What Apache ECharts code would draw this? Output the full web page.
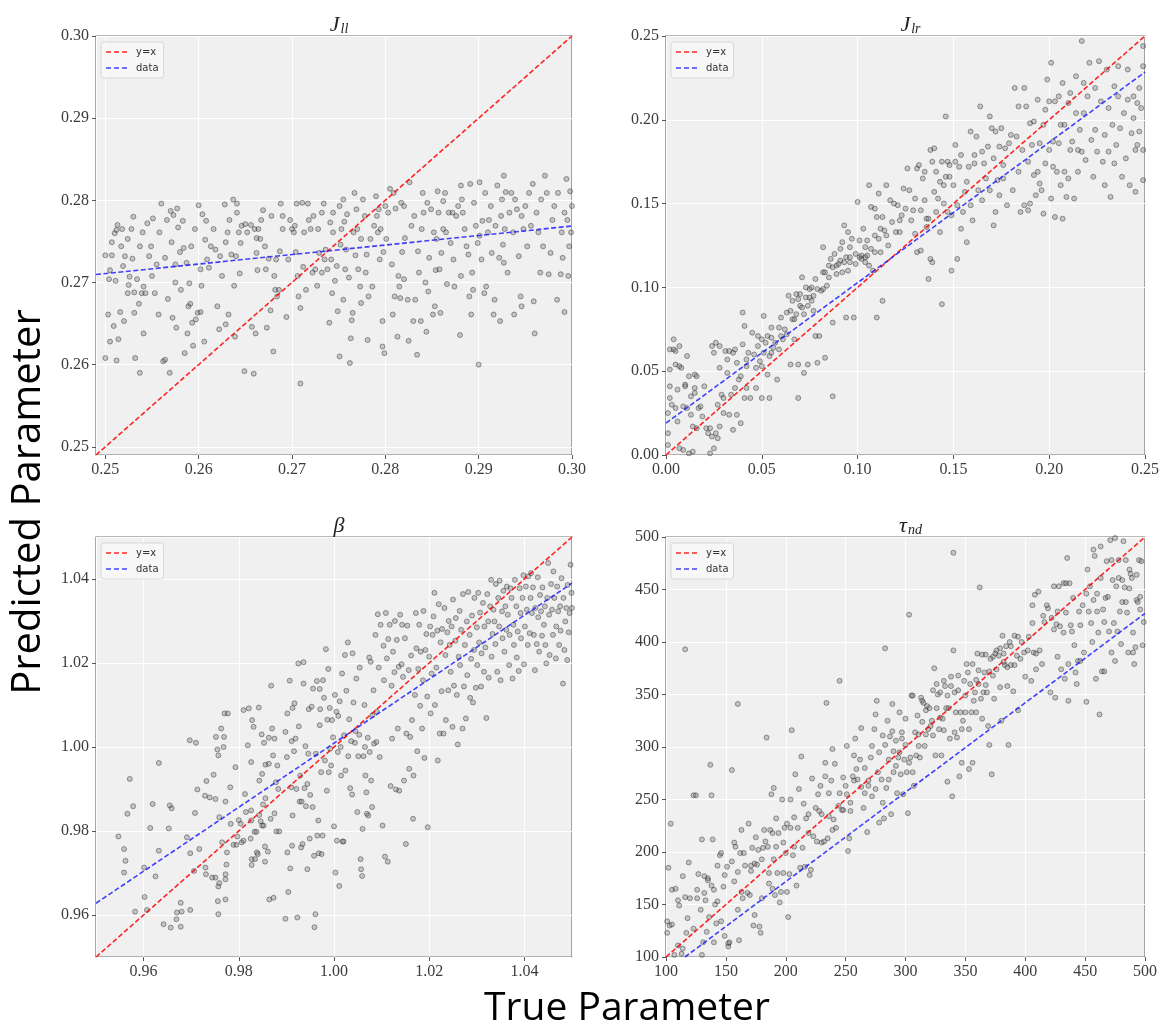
<!DOCTYPE html>
<html><head><meta charset="utf-8">
<script src="https://cdn.jsdelivr.net/npm/echarts@6/dist/echarts.min.js"></script>
<style>html,body{margin:0;padding:0;background:#fff}#c{width:1166px;height:1030px}</style>
</head><body><div id="c"></div>
<script>
// ---------- DATA ----------
const jllRange = [0.249, 0.30];
const jlrRange = [0, 0.25];
const betaRange = [0.95, 1.05];
const tauRange = [100, 500];

const jllFit = [[0.249, 0.27097], [0.30, 0.27687]];
const jlrFit = [[0, 0.019], [0.25, 0.2285]];
const betaFit = [[0.95, 0.9628], [1.05, 1.039]];
const tauFit = [[115.8, 100], [500, 427.2]];

const jllPoints = [[0.2500,0.2733],[0.2507,0.2733],[0.2500,0.2608],[0.2503,0.2661],[0.2504,0.2704],[0.2505,0.2715],[0.2507,0.2749],[0.2510,0.2760],[0.2509,0.2647],[0.2505,0.2628],[0.2513,0.2770],[0.2512,0.2764],[0.2511,0.2702],[0.2512,0.2605],[0.2514,0.2631],[0.2516,0.2664],[0.2517,0.2744],[0.2519,0.2720],[0.2518,0.2765],[0.2520,0.2653],[0.2521,0.2732],[0.2524,0.2753],[0.2524,0.2687],[0.2525,0.2697],[0.2526,0.2707],[0.2528,0.2765],[0.2530,0.2780],[0.2529,0.2729],[0.2531,0.2688],[0.2531,0.2663],[0.2532,0.2608],[0.2534,0.2704],[0.2536,0.2674],[0.2537,0.2744],[0.2537,0.2590],[0.2539,0.2687],[0.2540,0.2761],[0.2541,0.2638],[0.2541,0.2695],[0.2543,0.2687],[0.2545,0.2772],[0.2547,0.2732],[0.2549,0.2744],[0.2550,0.2708],[0.2551,0.2778],[0.2553,0.2687],[0.2555,0.2722],[0.2557,0.2661],[0.2558,0.2761],[0.2560,0.2796],[0.2562,0.2604],[0.2564,0.2606],[0.2564,0.2730],[0.2566,0.2776],[0.2567,0.2680],[0.2569,0.2590],[0.2570,0.2787],[0.2571,0.2749],[0.2572,0.2657],[0.2573,0.2782],[0.2575,0.2722],[0.2576,0.2645],[0.2575,0.2700],[0.2577,0.2790],[0.2578,0.2767],[0.2580,0.2737],[0.2581,0.2691],[0.2583,0.2775],[0.2584,0.2742],[0.2585,0.2614],[0.2587,0.2724],[0.2588,0.2638],[0.2589,0.2671],[0.2590,0.2699],[0.2591,0.2674],[0.2592,0.2744],[0.2593,0.2651],[0.2594,0.2623],[0.2596,0.2765],[0.2597,0.2655],[0.2599,0.2663],[0.2600,0.2794],[0.2602,0.2716],[0.2602,0.2664],[0.2603,0.2696],[0.2604,0.2783],[0.2606,0.2628],[0.2607,0.2752],[0.2608,0.2775],[0.2609,0.2728],[0.2611,0.2718],[0.2613,0.2744],[0.2616,0.2765],[0.2618,0.2740],[0.2620,0.2671],[0.2622,0.2643],[0.2623,0.2732],[0.2625,0.2708],[0.2628,0.2795],[0.2629,0.2749],[0.2629,0.2649],[0.2631,0.2761],[0.2632,0.2661],[0.2633,0.2776],[0.2635,0.2734],[0.2637,0.2801],[0.2638,0.2696],[0.2639,0.2634],[0.2640,0.2732],[0.2641,0.2796],[0.2641,0.2785],[0.2643,0.2761],[0.2644,0.2711],[0.2645,0.2748],[0.2646,0.2769],[0.2649,0.2592],[0.2650,0.2771],[0.2652,0.2761],[0.2656,0.2770],[0.2657,0.2646],[0.2659,0.2589],[0.2660,0.2765],[0.2661,0.2638],[0.2662,0.2736],[0.2662,0.2754],[0.2663,0.2715],[0.2664,0.2765],[0.2666,0.2753],[0.2667,0.2776],[0.2669,0.2788],[0.2671,0.2744],[0.2672,0.2716],[0.2673,0.2645],[0.2675,0.2729],[0.2677,0.2666],[0.2678,0.2781],[0.2680,0.2616],[0.2681,0.2708],[0.2682,0.2691],[0.2683,0.2728],[0.2684,0.2683],[0.2686,0.2691],[0.2687,0.2738],[0.2688,0.2796],[0.2690,0.2781],[0.2690,0.2765],[0.2694,0.2658],[0.2696,0.2728],[0.2698,0.2776],[0.2700,0.2765],[0.2702,0.2761],[0.2703,0.2769],[0.2704,0.2737],[0.2705,0.2796],[0.2706,0.2708],[0.2707,0.2683],[0.2709,0.2577],[0.2709,0.2669],[0.2711,0.2797],[0.2712,0.2719],[0.2713,0.2761],[0.2715,0.2691],[0.2717,0.2796],[0.2718,0.2776],[0.2720,0.2765],[0.2722,0.2712],[0.2723,0.2781],[0.2725,0.2716],[0.2727,0.2696],[0.2728,0.2765],[0.2729,0.2736],[0.2732,0.2785],[0.2732,0.2712],[0.2734,0.2796],[0.2735,0.2728],[0.2736,0.2740],[0.2738,0.2716],[0.2740,0.2651],[0.2741,0.2773],[0.2742,0.2728],[0.2743,0.2687],[0.2744,0.2761],[0.2744,0.2785],[0.2746,0.2702],[0.2748,0.2720],[0.2749,0.2665],[0.2751,0.2793],[0.2751,0.2610],[0.2752,0.2746],[0.2753,0.2765],[0.2755,0.2801],[0.2755,0.2679],[0.2756,0.2774],[0.2757,0.2716],[0.2758,0.2740],[0.2759,0.2783],[0.2761,0.2706],[0.2762,0.2602],[0.2763,0.2632],[0.2764,0.2654],[0.2765,0.2663],[0.2766,0.2761],[0.2767,0.2809],[0.2768,0.2733],[0.2769,0.2789],[0.2770,0.2765],[0.2771,0.2716],[0.2773,0.2695],[0.2774,0.2675],[0.2774,0.2753],[0.2776,0.2801],[0.2778,0.2781],[0.2779,0.2712],[0.2780,0.2734],[0.2781,0.2630],[0.2782,0.2683],[0.2784,0.2753],[0.2786,0.2695],[0.2788,0.2769],[0.2790,0.2805],[0.2791,0.2781],[0.2792,0.2761],[0.2793,0.2789],[0.2794,0.2728],[0.2795,0.2765],[0.2797,0.2622],[0.2797,0.2653],[0.2798,0.2737],[0.2799,0.2614],[0.2800,0.2793],[0.2801,0.2753],[0.2803,0.2785],[0.2805,0.2814],[0.2807,0.2722],[0.2808,0.2661],[0.2809,0.2809],[0.2810,0.2683],[0.2811,0.2790],[0.2813,0.2634],[0.2814,0.2708],[0.2815,0.2695],[0.2816,0.2681],[0.2817,0.2797],[0.2818,0.2737],[0.2820,0.2793],[0.2820,0.2704],[0.2821,0.2754],[0.2824,0.2679],[0.2825,0.2629],[0.2826,0.2822],[0.2828,0.2769],[0.2830,0.2653],[0.2831,0.2781],[0.2832,0.2679],[0.2834,0.2612],[0.2835,0.2738],[0.2836,0.2712],[0.2838,0.2653],[0.2839,0.2765],[0.2840,0.2809],[0.2841,0.2785],[0.2843,0.2700],[0.2844,0.2640],[0.2845,0.2797],[0.2846,0.2689],[0.2847,0.2730],[0.2849,0.2789],[0.2851,0.2661],[0.2852,0.2761],[0.2853,0.2671],[0.2854,0.2715],[0.2855,0.2753],[0.2856,0.2811],[0.2857,0.2785],[0.2858,0.2716],[0.2859,0.2663],[0.2860,0.2736],[0.2862,0.2799],[0.2862,0.2765],[0.2864,0.2809],[0.2865,0.2761],[0.2866,0.2698],[0.2868,0.2785],[0.2870,0.2748],[0.2872,0.2785],[0.2873,0.2728],[0.2874,0.2695],[0.2876,0.2781],[0.2878,0.2793],[0.2880,0.2636],[0.2881,0.2818],[0.2881,0.2708],[0.2882,0.2801],[0.2883,0.2785],[0.2885,0.2765],[0.2887,0.2744],[0.2889,0.2734],[0.2890,0.2683],[0.2891,0.2820],[0.2892,0.2661],[0.2893,0.2712],[0.2894,0.2691],[0.2895,0.2797],[0.2897,0.2769],[0.2899,0.2748],[0.2900,0.2600],[0.2901,0.2822],[0.2901,0.2757],[0.2903,0.2728],[0.2904,0.2775],[0.2906,0.2687],[0.2907,0.2809],[0.2908,0.2695],[0.2910,0.2761],[0.2911,0.2776],[0.2913,0.2793],[0.2914,0.2736],[0.2916,0.2661],[0.2917,0.2679],[0.2918,0.2769],[0.2920,0.2818],[0.2922,0.2730],[0.2923,0.2653],[0.2924,0.2781],[0.2925,0.2801],[0.2926,0.2746],[0.2927,0.2724],[0.2927,0.2830],[0.2928,0.2765],[0.2929,0.2810],[0.2931,0.2712],[0.2933,0.2785],[0.2935,0.2809],[0.2937,0.2761],[0.2938,0.2661],[0.2939,0.2801],[0.2941,0.2789],[0.2943,0.2732],[0.2945,0.2683],[0.2946,0.2671],[0.2946,0.2781],[0.2948,0.2765],[0.2950,0.2793],[0.2952,0.2744],[0.2954,0.2809],[0.2956,0.2769],[0.2958,0.2820],[0.2959,0.2677],[0.2960,0.2638],[0.2962,0.2785],[0.2964,0.2761],[0.2966,0.2712],[0.2967,0.2801],[0.2969,0.2744],[0.2971,0.2830],[0.2973,0.2809],[0.2975,0.2710],[0.2977,0.2736],[0.2979,0.2776],[0.2981,0.2793],[0.2984,0.2679],[0.2985,0.2809],[0.2988,0.2710],[0.2989,0.2761],[0.2990,0.2730],[0.2992,0.2664],[0.2992,0.2785],[0.2994,0.2826],[0.2995,0.2776],[0.2996,0.2708],[0.2997,0.2744],[0.2998,0.2811],[0.2999,0.2761],[0.3000,0.2793]];

const jlrPoints = [[0.001,0.006],[0.001,0.013],[0.001,0.025],[0.002,0.034],[0.002,0.041],[0.002,0.051],[0.002,0.063],[0.003,0.030],[0.004,0.063],[0.004,0.069],[0.005,0.054],[0.005,0.028],[0.005,0.062],[0.006,0.039],[0.006,0.020],[0.007,0.065],[0.007,0.053],[0.007,0.004],[0.008,0.052],[0.009,0.029],[0.009,0.003],[0.010,0.042],[0.010,0.041],[0.011,0.059],[0.011,0.028],[0.012,0.001],[0.012,0.047],[0.013,0.035],[0.013,0.024],[0.014,0.017],[0.014,0.002],[0.015,0.048],[0.015,0.040],[0.015,0.037],[0.016,0.016],[0.016,0.047],[0.017,0.028],[0.018,0.029],[0.019,0.023],[0.020,0.041],[0.021,0.016],[0.022,0.013],[0.023,0.001],[0.023,0.016],[0.024,0.065],[0.024,0.011],[0.025,0.004],[0.025,0.061],[0.026,0.013],[0.026,0.067],[0.027,0.030],[0.027,0.010],[0.028,0.052],[0.028,0.017],[0.028,0.065],[0.029,0.036],[0.030,0.025],[0.030,0.034],[0.031,0.062],[0.032,0.057],[0.032,0.049],[0.033,0.062],[0.033,0.024],[0.034,0.036],[0.035,0.061],[0.035,0.015],[0.036,0.040],[0.036,0.063],[0.037,0.024],[0.037,0.055],[0.038,0.045],[0.039,0.019],[0.039,0.047],[0.040,0.085],[0.040,0.066],[0.041,0.034],[0.041,0.077],[0.042,0.053],[0.042,0.040],[0.042,0.057],[0.043,0.061],[0.044,0.034],[0.045,0.073],[0.046,0.060],[0.047,0.052],[0.047,0.040],[0.048,0.071],[0.048,0.065],[0.049,0.056],[0.050,0.069],[0.050,0.034],[0.050,0.053],[0.051,0.061],[0.051,0.083],[0.052,0.067],[0.053,0.048],[0.053,0.071],[0.054,0.059],[0.054,0.034],[0.055,0.070],[0.055,0.061],[0.055,0.076],[0.056,0.064],[0.057,0.067],[0.058,0.045],[0.059,0.076],[0.059,0.063],[0.060,0.082],[0.060,0.071],[0.061,0.069],[0.062,0.075],[0.063,0.072],[0.063,0.085],[0.064,0.095],[0.065,0.086],[0.065,0.054],[0.066,0.081],[0.066,0.092],[0.067,0.069],[0.067,0.081],[0.068,0.096],[0.068,0.084],[0.069,0.054],[0.069,0.093],[0.069,0.034],[0.070,0.089],[0.070,0.096],[0.071,0.106],[0.071,0.088],[0.072,0.049],[0.072,0.084],[0.073,0.094],[0.073,0.100],[0.074,0.054],[0.074,0.089],[0.075,0.099],[0.075,0.094],[0.076,0.092],[0.076,0.100],[0.077,0.086],[0.077,0.095],[0.078,0.105],[0.078,0.071],[0.079,0.055],[0.079,0.099],[0.080,0.071],[0.081,0.098],[0.082,0.109],[0.082,0.124],[0.082,0.099],[0.083,0.058],[0.083,0.109],[0.084,0.101],[0.085,0.106],[0.085,0.113],[0.086,0.117],[0.087,0.112],[0.087,0.035],[0.087,0.079],[0.088,0.120],[0.089,0.113],[0.089,0.108],[0.090,0.114],[0.091,0.123],[0.091,0.116],[0.092,0.109],[0.092,0.127],[0.093,0.137],[0.093,0.115],[0.094,0.082],[0.094,0.118],[0.095,0.110],[0.095,0.133],[0.096,0.124],[0.096,0.115],[0.096,0.118],[0.097,0.129],[0.098,0.082],[0.099,0.114],[0.099,0.120],[0.100,0.151],[0.101,0.118],[0.101,0.128],[0.102,0.117],[0.102,0.119],[0.103,0.135],[0.104,0.118],[0.104,0.115],[0.104,0.124],[0.105,0.119],[0.105,0.128],[0.106,0.161],[0.106,0.113],[0.107,0.148],[0.107,0.123],[0.108,0.110],[0.109,0.131],[0.109,0.147],[0.109,0.121],[0.110,0.142],[0.110,0.082],[0.111,0.129],[0.111,0.156],[0.112,0.135],[0.112,0.121],[0.113,0.092],[0.113,0.142],[0.114,0.134],[0.115,0.161],[0.115,0.131],[0.116,0.125],[0.117,0.152],[0.118,0.139],[0.119,0.150],[0.120,0.133],[0.121,0.149],[0.122,0.140],[0.122,0.133],[0.123,0.143],[0.124,0.159],[0.125,0.147],[0.126,0.171],[0.127,0.158],[0.128,0.140],[0.129,0.146],[0.130,0.132],[0.130,0.153],[0.131,0.171],[0.131,0.121],[0.132,0.173],[0.133,0.146],[0.133,0.122],[0.134,0.165],[0.135,0.169],[0.135,0.152],[0.136,0.141],[0.136,0.136],[0.137,0.141],[0.137,0.105],[0.138,0.117],[0.138,0.182],[0.139,0.115],[0.139,0.175],[0.140,0.157],[0.140,0.183],[0.141,0.145],[0.141,0.169],[0.142,0.153],[0.143,0.133],[0.143,0.163],[0.144,0.090],[0.144,0.175],[0.145,0.150],[0.145,0.161],[0.146,0.166],[0.146,0.202],[0.147,0.145],[0.147,0.175],[0.148,0.166],[0.148,0.173],[0.149,0.110],[0.149,0.143],[0.150,0.161],[0.151,0.175],[0.151,0.185],[0.152,0.149],[0.152,0.117],[0.153,0.172],[0.154,0.179],[0.154,0.135],[0.155,0.145],[0.156,0.157],[0.157,0.127],[0.157,0.163],[0.158,0.172],[0.159,0.149],[0.159,0.193],[0.160,0.140],[0.161,0.179],[0.161,0.174],[0.162,0.190],[0.163,0.158],[0.164,0.208],[0.165,0.181],[0.165,0.152],[0.166,0.174],[0.167,0.165],[0.168,0.184],[0.169,0.202],[0.169,0.158],[0.170,0.195],[0.171,0.137],[0.171,0.177],[0.172,0.193],[0.172,0.145],[0.173,0.164],[0.174,0.184],[0.174,0.155],[0.175,0.195],[0.176,0.173],[0.176,0.165],[0.177,0.183],[0.178,0.149],[0.179,0.186],[0.180,0.191],[0.181,0.158],[0.182,0.219],[0.183,0.190],[0.184,0.169],[0.184,0.208],[0.185,0.145],[0.186,0.182],[0.187,0.219],[0.187,0.149],[0.188,0.208],[0.189,0.146],[0.189,0.175],[0.190,0.198],[0.190,0.150],[0.191,0.185],[0.192,0.167],[0.192,0.199],[0.193,0.155],[0.194,0.212],[0.194,0.169],[0.195,0.162],[0.195,0.186],[0.196,0.158],[0.197,0.144],[0.197,0.197],[0.198,0.174],[0.198,0.206],[0.199,0.224],[0.200,0.182],[0.200,0.211],[0.201,0.234],[0.201,0.153],[0.202,0.187],[0.202,0.172],[0.203,0.211],[0.203,0.142],[0.204,0.169],[0.205,0.186],[0.205,0.214],[0.206,0.161],[0.206,0.197],[0.207,0.222],[0.207,0.141],[0.208,0.169],[0.208,0.197],[0.209,0.154],[0.210,0.210],[0.210,0.165],[0.211,0.182],[0.211,0.216],[0.212,0.187],[0.213,0.153],[0.214,0.226],[0.214,0.204],[0.215,0.182],[0.215,0.169],[0.216,0.194],[0.217,0.247],[0.217,0.181],[0.218,0.222],[0.218,0.204],[0.219,0.176],[0.220,0.214],[0.221,0.234],[0.222,0.188],[0.223,0.166],[0.224,0.219],[0.224,0.194],[0.225,0.181],[0.226,0.235],[0.227,0.211],[0.228,0.175],[0.229,0.161],[0.229,0.191],[0.230,0.230],[0.231,0.207],[0.231,0.181],[0.232,0.154],[0.233,0.197],[0.234,0.220],[0.234,0.174],[0.235,0.185],[0.236,0.214],[0.236,0.232],[0.237,0.195],[0.238,0.166],[0.239,0.204],[0.240,0.177],[0.241,0.230],[0.241,0.212],[0.242,0.161],[0.243,0.192],[0.244,0.214],[0.244,0.201],[0.245,0.182],[0.245,0.157],[0.246,0.210],[0.246,0.185],[0.247,0.193],[0.247,0.219],[0.248,0.207],[0.249,0.244],[0.249,0.182],[0.249,0.164],[0.249,0.232]];

const betaPoints = [[0.9547,0.9787],[0.9559,0.9757],[0.9562,0.9729],[0.9559,0.9701],[0.9566,0.9841],[0.9571,0.9924],[0.9578,0.9859],[0.9582,0.9608],[0.9601,0.9713],[0.9602,0.9643],[0.9607,0.9612],[0.9614,0.9807],[0.9619,0.9864],[0.9625,0.9692],[0.9632,0.9753],[0.9632,0.9962],[0.9642,0.9578],[0.9653,0.9806],[0.9655,0.9861],[0.9657,0.9570],[0.9659,0.9854],[0.9669,0.9590],[0.9670,0.9606],[0.9678,0.9629],[0.9678,0.9572],[0.9680,0.9608],[0.9691,0.9785],[0.9698,0.9612],[0.9698,0.9747],[0.9697,1.0016],[0.9706,0.9705],[0.9708,0.9843],[0.9710,1.0010],[0.9713,0.9899],[0.9717,0.9757],[0.9730,0.9713],[0.9732,0.9919],[0.9729,0.9884],[0.9731,0.9697],[0.9739,0.9880],[0.9744,0.9689],[0.9747,0.9934],[0.9751,0.9689],[0.9751,0.9876],[0.9752,1.0024],[0.9755,0.9994],[0.9756,0.9633],[0.9757,0.9602],[0.9757,0.9668],[0.9759,0.9676],[0.9757,0.9980],[0.9759,0.9833],[0.9763,1.0044],[0.9765,0.9773],[0.9768,1.0000],[0.9769,1.0024],[0.9770,1.0080],[0.9772,0.9697],[0.9772,0.9685],[0.9772,0.9870],[0.9772,0.9637],[0.9774,0.9720],[0.9775,0.9749],[0.9777,1.0080],[0.9782,0.9904],[0.9783,0.9817],[0.9789,0.9767],[0.9793,0.9952],[0.9795,0.9767],[0.9797,0.9787],[0.9800,0.9826],[0.9804,0.9817],[0.9806,0.9773],[0.9810,0.9777],[0.9810,1.0088],[0.9813,0.9888],[0.9815,0.9845],[0.9819,1.0004],[0.9821,1.0092],[0.9825,0.9782],[0.9826,0.9964],[0.9826,0.9849],[0.9826,0.9825],[0.9827,0.9733],[0.9827,0.9719],[0.9828,1.0064],[0.9831,1.0048],[0.9833,0.9798],[0.9834,0.9733],[0.9837,0.9798],[0.9838,0.9749],[0.9840,0.9745],[0.9842,1.0094],[0.9843,0.9838],[0.9843,0.9920],[0.9846,0.9823],[0.9848,1.0030],[0.9849,0.9936],[0.9849,0.9813],[0.9851,0.9863],[0.9852,0.9813],[0.9853,1.0010],[0.9855,0.9727],[0.9855,0.9763],[0.9856,0.9958],[0.9856,0.9878],[0.9861,0.9751],[0.9863,0.9960],[0.9863,1.0022],[0.9864,0.9637],[0.9867,0.9829],[0.9868,1.0146],[0.9870,1.0044],[0.9872,0.9980],[0.9873,0.9641],[0.9875,0.9842],[0.9875,1.0020],[0.9878,0.9916],[0.9879,0.9799],[0.9881,0.9956],[0.9883,0.9900],[0.9885,0.9799],[0.9898,0.9591],[0.9898,1.0036],[0.9901,0.9976],[0.9902,0.9749],[0.9902,1.0080],[0.9904,0.9655],[0.9907,1.0158],[0.9908,0.9711],[0.9910,0.9904],[0.9911,1.0014],[0.9912,0.9765],[0.9913,0.9837],[0.9913,1.0093],[0.9916,0.9990],[0.9917,1.0104],[0.9919,1.0020],[0.9921,0.9900],[0.9923,0.9594],[0.9925,1.0199],[0.9926,1.0049],[0.9928,0.9870],[0.9929,0.9932],[0.9931,0.9761],[0.9932,0.9870],[0.9934,0.9769],[0.9936,1.0202],[0.9936,1.0151],[0.9938,0.9902],[0.9940,1.0002],[0.9941,0.9859],[0.9944,0.9709],[0.9944,0.9912],[0.9946,0.9984],[0.9947,1.0090],[0.9949,0.9782],[0.9950,0.9886],[0.9953,1.0096],[0.9955,0.9857],[0.9956,1.0139],[0.9958,0.9741],[0.9959,0.9571],[0.9961,0.9602],[0.9962,0.9984],[0.9964,1.0157],[0.9965,0.9789],[0.9967,0.9825],[0.9968,0.9747],[0.9970,1.0052],[0.9970,1.0138],[0.9971,1.0090],[0.9973,0.9940],[0.9974,0.9745],[0.9976,0.9789],[0.9977,1.0159],[0.9979,1.0117],[0.9981,0.9968],[0.9983,1.0233],[0.9985,0.9896],[0.9986,1.0065],[0.9988,1.0186],[0.9989,0.9940],[0.9991,1.0093],[0.9992,0.9996],[0.9994,0.9956],[0.9996,1.0064],[0.9998,1.0023],[1.0000,0.9811],[1.0002,1.0124],[1.0003,0.9701],[1.0005,1.0084],[1.0006,0.9777],[1.0008,0.9988],[1.0009,1.0074],[1.0011,0.9669],[1.0012,1.0109],[1.0014,1.0000],[1.0015,0.9932],[1.0017,1.0175],[1.0018,0.9775],[1.0020,0.9775],[1.0021,1.0028],[1.0023,1.0219],[1.0024,0.9944],[1.0026,1.0134],[1.0029,1.0249],[1.0030,0.9978],[1.0032,1.0066],[1.0034,0.9902],[1.0036,1.0014],[1.0038,0.9887],[1.0039,1.0223],[1.0041,1.0106],[1.0044,1.0010],[1.0045,1.0038],[1.0047,1.0163],[1.0049,0.9845],[1.0051,0.9978],[1.0053,1.0029],[1.0054,1.0189],[1.0056,0.9733],[1.0057,0.9709],[1.0059,0.9693],[1.0060,0.9805],[1.0062,0.9978],[1.0064,1.0100],[1.0065,1.0000],[1.0066,0.9932],[1.0068,0.9892],[1.0069,0.9841],[1.0071,1.0022],[1.0072,0.9837],[1.0074,1.0213],[1.0075,0.9988],[1.0077,1.0203],[1.0078,0.9920],[1.0080,0.9857],[1.0081,1.0076],[1.0083,1.0135],[1.0084,1.0008],[1.0087,1.0267],[1.0089,1.0012],[1.0090,1.0084],[1.0092,1.0316],[1.0094,1.0189],[1.0096,0.9976],[1.0098,1.0291],[1.0102,0.9813],[1.0104,1.0241],[1.0105,1.0159],[1.0107,0.9739],[1.0109,1.0319],[1.0111,1.0211],[1.0113,0.9727],[1.0114,1.0257],[1.0117,1.0291],[1.0119,0.9907],[1.0121,1.0146],[1.0122,1.0020],[1.0124,1.0227],[1.0127,1.0178],[1.0128,1.0300],[1.0130,0.9899],[1.0132,1.0255],[1.0134,1.0044],[1.0136,1.0191],[1.0137,0.9896],[1.0139,1.0315],[1.0142,1.0197],[1.0143,1.0291],[1.0145,1.0167],[1.0147,0.9920],[1.0149,1.0259],[1.0151,0.9769],[1.0152,1.0032],[1.0154,1.0289],[1.0157,1.0183],[1.0158,0.9948],[1.0160,1.0024],[1.0162,1.0218],[1.0164,1.0064],[1.0166,0.9829],[1.0167,0.9932],[1.0170,1.0124],[1.0172,1.0319],[1.0173,1.0235],[1.0175,0.9990],[1.0177,1.0186],[1.0179,1.0291],[1.0181,1.0098],[1.0182,1.0227],[1.0185,1.0044],[1.0187,1.0159],[1.0188,1.0324],[1.0190,0.9974],[1.0192,1.0231],[1.0194,1.0269],[1.0196,1.0120],[1.0197,0.9809],[1.0200,1.0215],[1.0202,1.0287],[1.0203,1.0080],[1.0205,1.0175],[1.0207,1.0267],[1.0209,1.0311],[1.0211,1.0367],[1.0212,1.0100],[1.0215,1.0189],[1.0217,1.0277],[1.0218,0.9968],[1.0220,1.0340],[1.0222,1.0032],[1.0224,1.0249],[1.0226,1.0133],[1.0227,1.0281],[1.0230,1.0032],[1.0232,1.0331],[1.0234,1.0219],[1.0235,1.0064],[1.0238,1.0273],[1.0240,1.0135],[1.0241,1.0300],[1.0243,1.0243],[1.0245,1.0179],[1.0247,1.0287],[1.0249,1.0048],[1.0250,1.0351],[1.0252,1.0146],[1.0255,1.0253],[1.0256,1.0307],[1.0258,1.0124],[1.0260,1.0006],[1.0262,1.0215],[1.0264,1.0324],[1.0265,1.0195],[1.0267,1.0279],[1.0270,1.0044],[1.0271,1.0364],[1.0273,1.0144],[1.0275,1.0243],[1.0277,1.0068],[1.0279,1.0299],[1.0280,1.0171],[1.0282,1.0369],[1.0285,1.0267],[1.0286,1.0117],[1.0288,1.0210],[1.0290,1.0313],[1.0292,1.0106],[1.0294,1.0231],[1.0295,1.0355],[1.0298,1.0141],[1.0300,1.0285],[1.0301,1.0195],[1.0303,1.0367],[1.0305,1.0249],[1.0307,1.0320],[1.0309,1.0144],[1.0310,1.0223],[1.0313,1.0343],[1.0315,1.0179],[1.0316,1.0287],[1.0318,1.0237],[1.0320,1.0069],[1.0322,1.0364],[1.0324,1.0299],[1.0325,1.0165],[1.0328,1.0335],[1.0330,1.0398],[1.0331,1.0215],[1.0333,1.0269],[1.0335,1.0327],[1.0337,1.0299],[1.0339,1.0245],[1.0340,1.0388],[1.0343,1.0179],[1.0345,1.0355],[1.0347,1.0287],[1.0348,1.0396],[1.0350,1.0159],[1.0353,1.0323],[1.0354,1.0259],[1.0356,1.0372],[1.0358,1.0227],[1.0360,1.0335],[1.0362,1.0279],[1.0363,1.0382],[1.0365,1.0315],[1.0368,1.0195],[1.0369,1.0267],[1.0371,1.0378],[1.0373,1.0355],[1.0375,1.0163],[1.0377,1.0291],[1.0378,1.0243],[1.0380,1.0398],[1.0383,1.0335],[1.0384,1.0213],[1.0386,1.0275],[1.0388,1.0181],[1.0390,1.0378],[1.0392,1.0319],[1.0393,1.0259],[1.0396,1.0355],[1.0398,1.0409],[1.0399,1.0197],[1.0401,1.0287],[1.0403,1.0382],[1.0405,1.0327],[1.0407,1.0243],[1.0408,1.0406],[1.0411,1.0271],[1.0413,1.0355],[1.0414,1.0414],[1.0416,1.0319],[1.0418,1.0380],[1.0420,1.0267],[1.0422,1.0183],[1.0423,1.0331],[1.0426,1.0245],[1.0428,1.0404],[1.0429,1.0309],[1.0431,1.0227],[1.0433,1.0362],[1.0435,1.0323],[1.0437,1.0265],[1.0438,1.0380],[1.0441,1.0291],[1.0443,1.0335],[1.0444,1.0243],[1.0446,1.0199],[1.0448,1.0355],[1.0450,1.0438],[1.0452,1.0315],[1.0453,1.0219],[1.0456,1.0388],[1.0458,1.0327],[1.0460,1.0267],[1.0461,1.0418],[1.0463,1.0355],[1.0466,1.0211],[1.0467,1.0287],[1.0469,1.0382],[1.0471,1.0323],[1.0473,1.0243],[1.0475,1.0335],[1.0476,1.0277],[1.0478,1.0402],[1.0481,1.0151],[1.0482,1.0355],[1.0484,1.0231],[1.0486,1.0299],[1.0488,1.0331],[1.0490,1.0207],[1.0491,1.0386],[1.0493,1.0273],[1.0495,1.0319],[1.0497,1.0434],[1.0499,1.0367],[1.0500,1.0331]];

const tauPoints = [[101,134],[101,123],[102,185],[103,130],[104,227],[105,164],[105,131],[107,102],[108,165],[110,154],[110,111],[111,149],[113,103],[114,177],[114,108],[116,157],[116,393],[117,123],[118,137],[119,190],[120,156],[123,254],[123,127],[125,254],[126,164],[126,156],[127,179],[129,145],[130,212],[130,102],[131,114],[132,177],[132,161],[133,154],[134,124],[135,175],[135,173],[136,138],[137,283],[138,168],[138,254],[139,212],[140,164],[140,114],[141,150],[142,132],[143,153],[143,187],[145,197],[146,134],[146,199],[148,167],[149,120],[149,178],[151,186],[152,113],[152,110],[153,114],[155,278],[155,191],[157,209],[157,172],[158,205],[160,341],[160,145],[160,181],[161,116],[162,199],[163,221],[163,162],[164,156],[165,199],[166,187],[168,161],[169,227],[170,159],[171,187],[171,182],[172,204],[173,130],[174,189],[174,140],[175,214],[176,188],[177,202],[178,129],[179,123],[180,193],[180,156],[181,204],[182,221],[183,210],[184,309],[185,205],[186,170],[186,180],[187,221],[188,255],[189,218],[189,165],[190,193],[190,261],[191,159],[192,205],[192,232],[193,180],[194,218],[195,152],[196,162],[197,250],[198,180],[198,209],[199,223],[200,199],[201,162],[201,227],[202,138],[203,179],[204,223],[204,250],[205,316],[206,197],[207,233],[207,205],[208,274],[209,168],[210,223],[211,260],[212,185],[213,291],[214,204],[215,246],[216,186],[217,232],[219,218],[219,236],[220,178],[221,183],[222,270],[223,215],[225,242],[226,210],[227,255],[228,239],[229,263],[230,209],[230,236],[232,210],[233,285],[233,272],[234,342],[235,213],[236,234],[236,256],[238,268],[239,221],[239,298],[240,231],[241,284],[242,223],[244,244],[245,363],[245,256],[247,240],[248,271],[248,240],[250,263],[251,255],[251,301],[252,201],[253,213],[254,239],[254,247],[256,272],[257,268],[257,292],[258,308],[259,279],[260,269],[262,288],[263,262],[263,318],[265,242],[266,280],[266,256],[268,219],[269,268],[269,263],[271,290],[272,301],[272,253],[274,317],[275,331],[275,260],[276,344],[277,276],[278,228],[278,295],[280,269],[281,311],[281,247],[282,232],[283,302],[283,394],[284,261],[285,325],[286,288],[286,269],[287,310],[288,236],[289,341],[289,315],[290,276],[290,296],[292,306],[292,282],[293,256],[294,290],[295,333],[295,295],[296,274],[297,308],[297,314],[298,255],[299,288],[300,327],[300,302],[301,276],[302,237],[303,285],[303,426],[304,290],[305,349],[306,276],[306,349],[307,263],[308,314],[309,292],[310,330],[311,301],[311,312],[312,290],[313,347],[314,344],[314,324],[315,342],[316,301],[317,312],[317,335],[318,339],[319,317],[320,337],[321,320],[322,325],[323,354],[323,311],[324,375],[325,292],[326,337],[326,360],[327,350],[328,317],[329,328],[329,352],[330,292],[331,327],[332,363],[332,316],[333,358],[334,337],[335,349],[335,267],[336,337],[337,308],[338,358],[338,367],[339,253],[340,392],[340,485],[341,314],[341,352],[342,333],[343,309],[344,354],[344,368],[345,272],[346,333],[347,317],[347,285],[348,325],[349,363],[350,349],[350,333],[351,379],[352,371],[353,279],[353,317],[354,360],[355,333],[356,379],[356,285],[357,344],[358,352],[359,364],[359,333],[360,389],[361,373],[361,360],[362,452],[363,346],[364,388],[364,327],[365,352],[366,371],[367,359],[367,388],[368,352],[369,320],[370,302],[370,372],[371,384],[372,274],[373,368],[373,386],[374,346],[375,389],[376,374],[376,392],[378,387],[379,357],[379,394],[380,325],[381,406],[382,381],[382,389],[383,378],[384,396],[385,358],[385,376],[386,302],[387,400],[388,396],[388,378],[390,353],[391,378],[391,406],[393,387],[394,335],[394,405],[396,384],[397,400],[399,390],[400,367],[402,392],[403,405],[405,363],[406,435],[406,418],[407,390],[408,445],[409,374],[409,389],[411,448],[412,392],[414,379],[415,425],[416,419],[418,435],[419,432],[421,352],[422,423],[424,453],[424,412],[425,347],[426,417],[427,386],[427,429],[428,453],[429,415],[430,374],[432,456],[432,409],[433,365],[434,456],[434,428],[435,480],[436,344],[436,379],[437,456],[438,416],[439,410],[440,442],[441,397],[442,371],[443,360],[444,382],[445,429],[446,416],[446,382],[448,435],[449,390],[451,446],[451,343],[452,469],[453,429],[454,453],[455,418],[456,400],[457,440],[457,488],[458,482],[459,365],[460,446],[460,429],[461,409],[462,331],[463,491],[463,461],[464,372],[465,431],[466,419],[466,372],[467,442],[468,477],[469,443],[470,410],[471,497],[472,478],[472,390],[473,459],[474,418],[475,382],[475,499],[476,453],[477,410],[478,478],[478,461],[479,429],[480,398],[481,438],[481,459],[482,496],[483,452],[484,478],[484,438],[485,428],[486,390],[487,469],[487,451],[488,465],[489,461],[490,409],[490,390],[491,379],[492,395],[493,440],[493,464],[494,438],[495,478],[496,443],[496,431],[497,477],[498,397],[499,419]];

// ---------- CHART ----------
const panels = [
  { points: jllPoints, fit: jllFit, range: jllRange, fmt: v => v.toFixed(2), sub: 'll', main: 'J', split: 5, hideMin: true, hideMax: false },
  { points: jlrPoints, fit: jlrFit, range: jlrRange, fmt: v => v.toFixed(2), sub: 'lr', main: 'J', split: 5, hideMin: false, hideMax: false },
  { points: betaPoints, fit: betaFit, range: betaRange, fmt: v => v.toFixed(2), sub: '', main: 'β', split: 5, hideMin: true, hideMax: true },
  { points: tauPoints, fit: tauFit, range: tauRange, fmt: v => String(Math.round(v)), sub: 'nd', main: 'τ', split: 8, hideMin: false, hideMax: false }
];
const boxes = [
  { left: 96, top: 36, width: 476, height: 419 },
  { left: 666, top: 36, width: 479, height: 419 },
  { left: 96, top: 537, width: 476, height: 420 },
  { left: 666, top: 537, width: 479, height: 420 }
];

const serif = '"Liberation Serif", "DejaVu Serif", serif';
const redC = 'rgba(255,0,0,0.85)';
const blueC = 'rgba(20,20,255,0.8)';
const dashIcon = 'path://M0,0h5v1.6h-5z M8,0h5v1.6h-5z M16,0h5v1.6h-5z';
const grid = [], xAxis = [], yAxis = [], series = [], title = [], legend = [];

panels.forEach((p, i) => {
  const b = boxes[i];
  grid.push(Object.assign({ show: true, backgroundColor: '#f0f0f0', borderColor: '#707070', borderWidth: 1.2, containLabel: false }, b));
  const axisCommon = (pos) => ({
    type: 'value', gridIndex: i, min: p.range[0], max: p.range[1], splitNumber: p.split, position: pos,
    axisLine: { show: false },
    axisTick: { show: true, inside: false, length: 4, lineStyle: { color: '#555', width: 1 } },
    axisLabel: { show: true, margin: 7, formatter: p.fmt, showMinLabel: !p.hideMin, showMaxLabel: !p.hideMax,
      fontFamily: serif, fontSize: 16, color: '#3c3c3c' },
    splitLine: { show: true, lineStyle: { color: '#ffffff', width: 1 } }
  });
  xAxis.push(axisCommon('bottom'));
  yAxis.push(axisCommon('left'));

  series.push({
    name: 'points', type: 'scatter', xAxisIndex: i, yAxisIndex: i, data: p.points,
    symbol: 'circle', symbolSize: 5, silent: true, z: 2,
    itemStyle: { color: 'rgba(110,110,110,0.42)', borderColor: 'rgba(20,20,20,0.55)', borderWidth: 0.9 }
  });
  series.push({
    name: 'y=x', type: 'line', xAxisIndex: i, yAxisIndex: i, data: [[p.range[0], p.range[0]], [p.range[1], p.range[1]]],
    symbol: 'none', silent: true, z: 3, clip: true,
    lineStyle: { color: redC, width: 1.6, type: [5, 2.5] }, itemStyle: { color: redC }
  });
  series.push({
    name: 'data', type: 'line', xAxisIndex: i, yAxisIndex: i, data: p.fit,
    symbol: 'none', silent: true, z: 3, clip: true,
    lineStyle: { color: blueC, width: 1.6, type: [5, 2.5] }, itemStyle: { color: blueC }
  });

  const cx = b.left + b.width / 2;
  title.push({
    text: p.sub ? '{i|' + p.main + '}{s|' + p.sub + '}' : '{i|' + p.main + '}',
    left: cx, top: b.top - 29, textAlign: 'center',
    textStyle: { fontWeight: 'normal', rich: {
      i: { fontFamily: serif, fontStyle: 'italic', fontWeight: 'normal', fontSize: 22, color: '#222', lineHeight: 26 },
      s: { fontFamily: serif, fontStyle: 'italic', fontWeight: 'normal', fontSize: 14, color: '#222', lineHeight: 26, padding: [9, 0, 0, 1] }
    } }
  });
  legend.push({
    data: [{ name: 'y=x', icon: dashIcon }, { name: 'data', icon: dashIcon }],
    orient: 'vertical', left: b.left + 5, top: b.top + 6,
    itemWidth: 21, itemHeight: 2, itemGap: 6, padding: [5, 5, 5, 5],
    backgroundColor: 'rgba(248,248,248,0.85)', borderColor: '#d8d8d8', borderWidth: 1, borderRadius: 3,
    textStyle: { fontFamily: '"DejaVu Sans", sans-serif', fontSize: 10, color: '#333', padding: [0, 0, 0, 4], lineHeight: 9 },
    selectedMode: false
  });
});

const chart = echarts.init(document.getElementById('c'), null, { renderer: 'canvas' });
chart.setOption({
  animation: false,
  backgroundColor: '#ffffff',
  title, grid, xAxis, yAxis, series, legend,
  graphic: [
    { type: 'text', x: 29, y: 502, rotation: Math.PI / 2,
      style: { text: 'Predicted Parameter', font: '40px "Open Sans", "Noto Sans", sans-serif', textAlign: 'center', textVerticalAlign: 'middle', fill: '#000' } },
    { type: 'text', x: 627, y: 1009,
      style: { text: 'True Parameter', font: '39px "Open Sans", "Noto Sans", sans-serif', textAlign: 'center', textVerticalAlign: 'middle', fill: '#000' } }
  ]
});
</script>
</body></html>
